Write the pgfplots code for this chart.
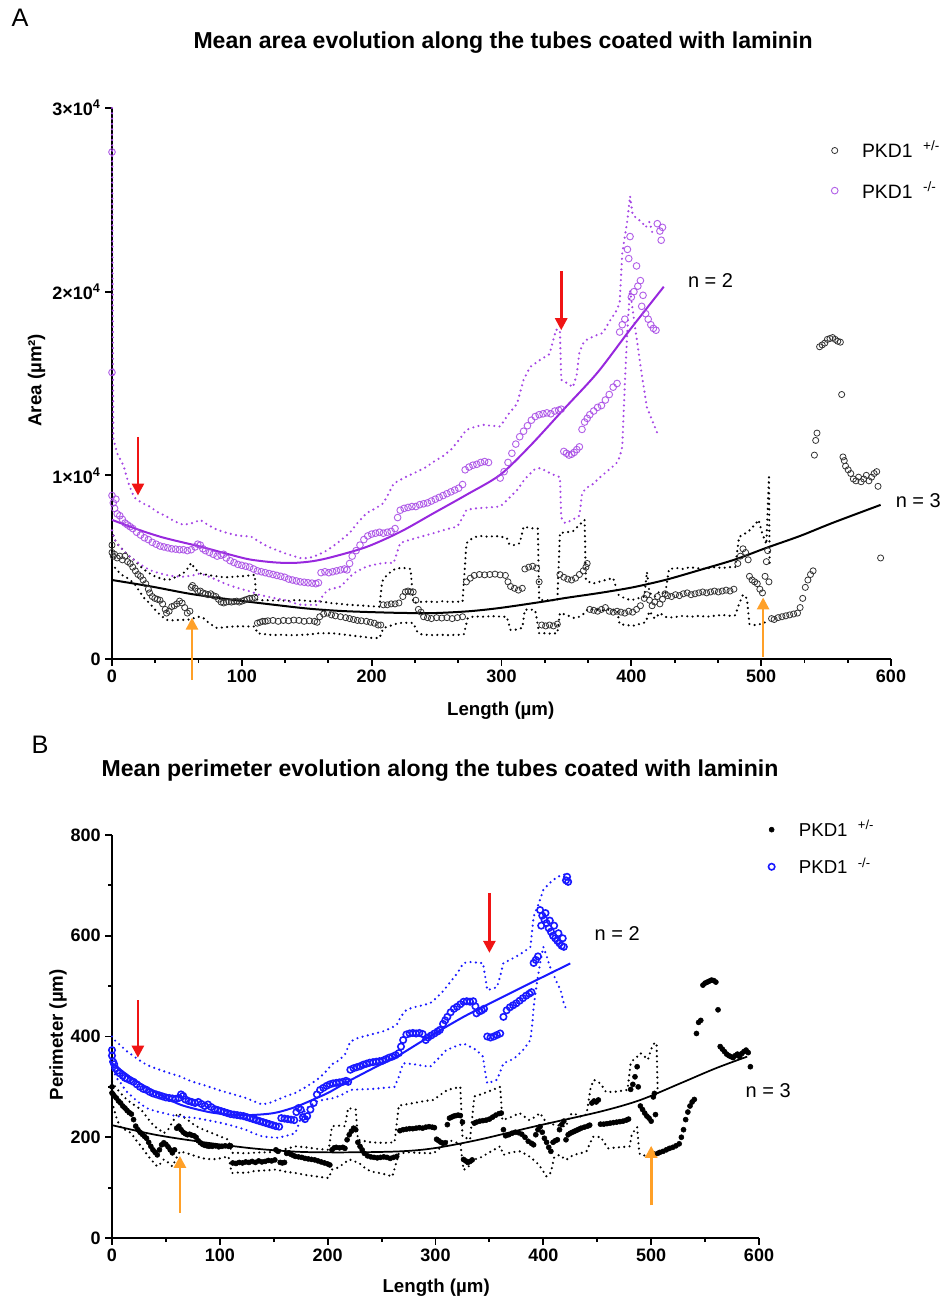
\documentclass[border=0pt]{standalone}
\usepackage{fontspec}
\setmainfont{Liberation Sans}
\usepackage{pgfplots}
\pgfplotsset{compat=1.18}
\usetikzlibrary{arrows.meta}
\definecolor{pur}{RGB}{152,40,222}
\definecolor{purl}{RGB}{165,70,228}
\definecolor{blu}{RGB}{25,25,255}
\definecolor{arrred}{RGB}{240,20,20}
\definecolor{arrorg}{RGB}{255,160,40}
\tikzset{
  redarr/.style={arrred, line width=2pt, -{Triangle[width=9pt,length=9pt]}},
  orgarr/.style={arrorg, line width=2pt, -{Triangle[width=9pt,length=9pt]}},
}
\pgfplotsset{
  prism/.style={
    scale only axis, axis lines=left, axis line style={-, line width=1.4pt},
    tick align=outside, major tick length=5pt, minor tick length=3pt,
    every tick/.style={line width=1.4pt, black},
    tick label style={font=\bfseries\fontsize{13.5}{14}\selectfont},
    /pgf/number format/assume math mode=true,
    label style={font=\bfseries\fontsize{14}{16}\selectfont},
    title style={font=\bfseries\fontsize{17.3}{20}\selectfont, yshift=-6pt},
    clip=false, scaled ticks=false, legend cell align=left,
  },
  band/.style={line width=1.8pt, line cap=round, dash pattern=on 0pt off 4pt, forget plot},
  fit/.style={line width=1.5pt, no marks, smooth, forget plot},
}
\newcommand{\pkdlg}[1]{\hspace{16pt}PKD1\hspace{0.55em}\textsuperscript{#1}}
\begin{document}
\begin{tikzpicture}
\path[use as bounding box] (0,0) rectangle (708.75pt,975.75pt);
% ================= Panel A =================
\begin{axis}[prism, at={(84pt,481.5pt)}, anchor=south west,
  width=584.25pt, height=413.25pt,
  xmin=0, xmax=600, ymin=0, ymax=30000,
  xtick={0,100,...,600}, minor x tick num=2,
  ytick={0,10000,20000,30000},
  yticklabels={0,1×10\textsuperscript{4},2×10\textsuperscript{4},3×10\textsuperscript{4}},
  xlabel={Length (µm)}, ylabel={Area (µm²)},
  xlabel style={at={(axis description cs:0.499,-0.094)}, anchor=center},
  ylabel style={at={(axis description cs:-0.097,0.506)}, anchor=center},
  title={Mean area evolution along the tubes coated with laminin},
  title style={at={(axis description cs:0.502,1.118)}, anchor=center},
  legend style={at={(axis description cs:0.918,0.950)}, anchor=north west, draw=none, fill=none,
    font=\fontsize{14.5}{16}\selectfont, row sep=12pt},
]
% black bands
\addplot[band, black] coordinates {(0,7000) (2,6500) (5,6200) (9,5900) (13,5600) (17,5400) (21,5100) (25,4850) (29,4660) (33,4500) (37,4400) (42,4300) (46,4350) (50,4500) (54,4600) (58,4900) (61,5230) (64,4900) (68,4660) (72,4600) (76,4550) (81,4500) (86,4450) (90,4450) (94,4480) (98,4500) (102,4520) (106,4550) (110,4580) (111,3250) (115,3200) (120,3200) (125,3180) (130,3200) (135,3150) (140,3200) (146,3200) (152,3150) (158,3150) (164,3100) (170,3030) (176,3000) (182,2950) (188,2930) (194,2900) (200,2870) (206,2850) (208,4210) (211,4500) (214,4700) (218,4900) (222,4950) (226,4950) (230,4900) (232,3050) (236,3100) (240,3120) (245,3120) (250,3100) (255,3150) (260,3100) (265,3120) (270,3120) (273,6300) (276,6500) (280,6650) (285,6700) (290,6650) (295,6700) (300,6650) (304,6600) (306,6250) (310,6200) (314,6300) (317,7200) (321,7150) (325,7100) (328,7100) (329,3210) (333,3200) (338,3200) (343,3200) (345,6860) (350,6900) (355,6950) (360,7300) (364,7570) (365,4300) (370,4100) (375,4200) (380,4300) (386,4410) (390,3500) (395,3300) (400,3200) (405,3300) (410,3400) (412,4740) (414,3600) (418,3400) (422,3700) (426,3500) (429,4900) (435,4950) (440,4900) (445,5000) (450,4950) (455,4900) (460,4950) (465,5000) (470,4950) (475,5000) (480,5000) (483,6650) (487,6800) (491,7000) (495,7300) (498,7570) (501,6800) (504,6250) (506,9900) (506.5,5200)};
\addplot[band, black] coordinates {(0,5200) (3,4900) (7,4600) (12,4400) (17,4120) (21,3700) (25,3300) (29,3030) (33,2700) (37,2400) (42,2130) (46,2100) (50,2120) (54,2130) (58,2130) (62,2200) (66,2300) (70,2250) (74,2000) (78,1800) (81,1680) (86,1720) (90,1750) (94,1770) (100,1780) (105,1770) (110,1770) (112,1400) (118,1350) (124,1300) (130,1320) (136,1300) (142,1300) (148,1320) (154,1350) (158,1400) (164,1400) (170,1400) (176,1350) (182,1300) (188,1250) (194,1200) (200,1150) (206,1140) (209,1680) (214,1800) (218,1900) (222,1960) (227,1970) (232,1960) (235,1500) (238,1350) (243,1310) (248,1300) (253,1320) (258,1300) (263,1310) (268,1320) (271,1350) (274,2230) (279,2320) (285,2300) (290,2320) (295,2330) (300,2300) (304,2300) (307,1580) (312,1600) (316,1700) (318,2680) (322,2700) (326,2650) (329,1400) (333,1400) (338,1380) (343,1400) (345,2500) (350,2400) (356,2230) (360,2300) (364,2500) (366,2670) (372,2700) (378,2650) (384,2700) (389,2650) (391,1900) (396,1850) (401,1800) (406,1900) (411,2000) (414,2600) (418,2200) (422,2500) (426,2300) (429,2250) (435,2300) (440,2350) (446,2300) (452,2350) (458,2300) (464,2350) (470,2400) (476,2350) (480,2380) (483,3000) (486,3500) (489,3300) (491,1900) (495,1850) (499,1900) (502,2000) (505,1950)};
% purple bands
\addplot[band, purl] coordinates {(0,30000) (0.5,20000) (1,12000) (4,11200) (9,10500) (13,9500) (17,8800) (23,8500) (29,8300) (35,8000) (42,7760) (48,7500) (55,7300) (62,7400) (68,7570) (74,7300) (81,7030) (87,6900) (94,6760) (100,6700) (107,6670) (113,6400) (120,6120) (126,5950) (133,5760) (140,5600) (146,5480) (152,5500) (158,5650) (164,5850) (170,6120) (176,6450) (183,6860) (189,7400) (196,7940) (203,8200) (209,8480) (213,9000) (217,9560) (226,9900) (235,10200) (242,10450) (248,10750) (255,11050) (261,11390) (267,11900) (273,12480) (280,12650) (286,12750) (292,12700) (299,12660) (305,13300) (312,13900) (317,15200) (322,15900) (330,16300) (337,16600) (342,17930) (345,17900) (346,15200) (351,15000) (355,14800) (358,15500) (360,16700) (363,17200) (366,17400) (372,17600) (378,17750) (384,18470) (388,18900) (391,19380) (393,22100) (397,23900) (399,25200) (401,24200) (404,24000) (408,23800) (411,23500) (414,23800) (417,23000)};
\addplot[band, purl] coordinates {(0,7000) (2,6500) (5,6200) (10,5800) (17,5400) (23,5100) (29,4840) (35,4700) (42,4570) (48,4500) (55,4480) (62,4550) (68,4660) (74,4500) (81,4300) (87,4100) (94,3930) (100,3800) (107,3670) (113,3500) (120,3390) (126,3300) (133,3210) (140,3050) (146,2940) (152,2950) (158,2940) (162,3400) (166,3760) (171,3850) (176,3940) (181,4300) (186,4660) (191,4850) (196,5030) (203,5150) (209,5230) (217,5230) (220,5900) (222,6320) (230,6500) (240,6700) (248,6860) (257,7050) (266,7210) (270,7700) (273,8120) (280,8200) (290,8250) (299,8300) (305,8700) (312,9200) (318,9800) (325,10300) (330,10400) (335,10200) (341,10000) (345,9900) (346,7700) (349,7400) (354,7550) (360,7800) (362,9000) (365,9300) (370,9500) (376,9900) (381,10200) (386,10500) (389,10700) (391,11000) (393,11550) (395,15000) (397,18000) (399,20100) (402,18500) (405,17000) (408,15500) (412,13700) (416,13000) (420,12300)};
% means
\addplot[only marks, mark=o, mark size=2.3pt, mark options={draw=black!80, line width=0.6pt}] coordinates {(0,5800) (0,6200) (1,5600) (2,5700) (4,5500) (6,5600) (8,5400) (10,5600) (12,5300) (14,5200) (16,5000) (18,4800) (20,4600) (22,4500) (24,4300) (26,4100) (28,3800) (29,3600) (31,3400) (33,3300) (35,3250) (37,3200) (39,3000) (41,2700) (42,2500) (44,2600) (46,2850) (48,2900) (50,3000) (52,3150) (54,3050) (56,2800) (58,2500) (60,2600) (61,3900) (62,4000) (64,3850) (66,3700) (68,3700) (70,3600) (72,3550) (74,3500) (76,3550) (78,3450) (80,3400) (82,3250) (84,3100) (86,3050) (88,3100) (90,3120) (92,3100) (94,3130) (96,3150) (98,3100) (100,3150) (102,3200) (104,3250) (106,3300) (108,3300) (110,3350) (112,1950) (114,2000) (116,2050) (118,2050) (120,2080) (124,2100) (128,2050) (132,2100) (136,2080) (140,2120) (144,2100) (148,2050) (152,2080) (156,2050) (158,2000) (160,2300) (163,2450) (166,2500) (169,2400) (172,2350) (176,2300) (180,2250) (183,2200) (186,2150) (189,2100) (192,2080) (196,2050) (199,2000) (202,1950) (205,1850) (207,1850) (209,2950) (212,2950) (215,3000) (218,3000) (221,3050) (224,3400) (226,3650) (228,3700) (230,3650) (232,3650) (234,3200) (236,2700) (238,2550) (240,2300) (243,2250) (246,2200) (250,2250) (254,2230) (258,2250) (262,2200) (266,2250) (270,2300) (273,4200) (276,4400) (279,4550) (283,4600) (287,4580) (291,4600) (295,4620) (299,4580) (303,4550) (305,4200) (307,3950) (310,3850) (313,3750) (316,3850) (318,4900) (321,5000) (324,5050) (327,4950) (329,4200) (331,1850) (334,1800) (337,1850) (340,1800) (343,1900) (345,4600) (348,4450) (351,4350) (354,4300) (357,4400) (360,4600) (363,4800) (365,5000) (366,5200) (368,2700) (371,2650) (374,2600) (377,2700) (380,2800) (383,2600) (386,2550) (389,2600) (392,2550) (395,2500) (398,2600) (401,2550) (404,2700) (407,2900) (410,3300) (412,3500) (414,3200) (416,2900) (418,3100) (420,3400) (422,3000) (424,3250) (426,3550) (428,3450) (431,3400) (434,3500) (437,3450) (440,3550) (443,3600) (446,3500) (449,3550) (452,3600) (455,3650) (458,3600) (461,3650) (464,3700) (467,3650) (470,3700) (473,3750) (476,3700) (479,3800) (482,5200) (484,5600) (486,6000) (488,5800) (490,5400) (491,4500) (493,4300) (495,4200) (497,4100) (499,3800) (501,3600) (503,4500) (504,5300) (505,5900) (506,4200) (508,2200) (510,2150) (513,2250) (516,2300) (519,2350) (522,2400) (525,2450) (528,2500) (530,2800) (532,3300) (534,3900) (536,4300) (538,4600) (540,4800) (541,11100) (542,11900) (543,12300) (545,17000) (547,17100) (549,17200) (551,17400) (553,17450) (555,17500) (557,17400) (559,17300) (561,17250) (562,14400) (563,11000) (564,10800) (565,10500) (567,10300) (569,10100) (571,9800) (573,9700) (575,9900) (577,9650) (579,9800) (581,10000) (583,9700) (585,9900) (587,10100) (589,10200) (590,9400) (592,5500)};
\addlegendentry{\pkdlg{+/-}}
\addplot[only marks, mark=o, mark size=2.5pt, mark options={draw=purl, line width=0.7pt, draw opacity=0.85}] coordinates {(0,27600) (0,15600) (0,8900) (1,8500) (2,8200) (3,8700) (4,7900) (6,7800) (8,7600) (10,7400) (12,7300) (14,7200) (16,7100) (19,6900) (22,6750) (25,6600) (28,6500) (31,6350) (34,6250) (37,6150) (40,6100) (43,6050) (46,6000) (49,5980) (52,5950) (55,5950) (58,5900) (61,5950) (64,6100) (66,6250) (68,6200) (70,6000) (72,5900) (75,5800) (78,5700) (81,5600) (84,5650) (86,5700) (88,5500) (91,5350) (94,5250) (97,5150) (100,5100) (103,5050) (106,5000) (109,4900) (112,4800) (115,4750) (118,4700) (121,4650) (124,4600) (127,4550) (130,4500) (133,4450) (136,4350) (139,4300) (142,4250) (145,4200) (148,4180) (151,4150) (154,4130) (157,4100) (159,4150) (161,4700) (164,4750) (167,4700) (170,4750) (173,4800) (176,4850) (179,4900) (181,4850) (183,5200) (185,5600) (188,5900) (191,6200) (194,6500) (197,6700) (200,6800) (203,6850) (206,6900) (209,6850) (212,6900) (215,6950) (218,7100) (220,7700) (222,8100) (225,8200) (228,8250) (231,8300) (234,8300) (237,8400) (240,8450) (243,8500) (246,8600) (249,8700) (252,8800) (255,8900) (258,9000) (261,9100) (264,9200) (267,9300) (270,9500) (272,10300) (275,10450) (278,10550) (281,10600) (284,10700) (287,10750) (290,10700) (299,9850) (302,10200) (305,10700) (308,11200) (311,11700) (314,12100) (317,12400) (320,12700) (323,13000) (326,13200) (329,13300) (332,13350) (335,13400) (338,13350) (341,13500) (344,13550) (346,13600) (348,11300) (350,11200) (352,11100) (354,11150) (356,11250) (358,11400) (360,11550) (362,12500) (364,12900) (366,13100) (368,13300) (371,13500) (374,13700) (377,13800) (380,14100) (383,14400) (386,14800) (389,15000) (391,17800) (393,18200) (395,18500) (397,22300) (398,21800) (399,23000) (400,19700) (402,20000) (404,21400) (405,20300) (407,20600) (408,19200) (409,19800) (411,18800) (413,18500) (415,18200) (417,18000) (419,17900) (420,23700) (422,23300) (423,22800) (424,23500)};
\addlegendentry{\pkdlg{-/-}}
% fits
\addplot[fit, black] coordinates {(0,4300) (30,3950) (60,3550) (90,3250) (119,3000) (150,2750) (175,2620) (196,2560) (222,2510) (248,2500) (275,2600) (299,2780) (330,3100) (350,3330) (376,3600) (401,3900) (427,4320) (453,4850) (480,5420) (504,6050) (530,6700) (555,7410) (592,8390)};
\addplot[fit, pur] coordinates {(0,7575) (20,7050) (40,6600) (68,6120) (90,5700) (106,5420) (125,5260) (140,5230) (155,5330) (170,5560) (196,6100) (222,6920) (248,7950) (273,8940) (299,10030) (322,11600) (348,13600) (374,15600) (399,17930) (425,20270)};
% annotations
\draw[redarr] (axis cs:20,12100) -- (axis cs:20,8900);
\draw[redarr] (axis cs:346,21100) -- (axis cs:346,17900);
\draw[orgarr] (axis cs:61.6,-1150) -- (axis cs:61.6,2250);
\draw[orgarr] (axis cs:501.5,110) -- (axis cs:501.5,3350);
\node[font=\fontsize{15}{18}\selectfont] at (axis cs:461,20600) {n = 2};
\node[font=\fontsize{15}{18}\selectfont] at (axis cs:621,8610) {n = 3};
\node[font=\fontsize{19}{22}\selectfont] at (axis description cs:-0.118,1.163) {A};
\end{axis}
% ================= Panel B =================
\begin{axis}[prism, at={(84pt,47.25pt)}, anchor=south west,
  width=485.25pt, height=302.25pt,
  xmin=0, xmax=600, ymin=0, ymax=800,
  xtick={0,100,...,600}, minor x tick num=1,
  ytick={0,200,...,800}, minor y tick num=1,
  xlabel={Length (µm)}, ylabel={Perimeter (µm)},
  xlabel style={at={(axis description cs:0.501,-0.124)}, anchor=center},
  ylabel style={at={(axis description cs:-0.0835,0.504)}, anchor=center},
  title={Mean perimeter evolution along the tubes coated with laminin},
  title style={at={(axis description cs:0.507,1.159)}, anchor=center},
  legend style={at={(axis description cs:1.008,1.050)}, anchor=north west, draw=none, fill=none,
    font=\fontsize{14}{16}\selectfont, row sep=10pt},
]
\addplot[band, black] coordinates {(0,310) (3,300) (7,290) (10,283) (14,274) (20,265) (27,255) (33,238) (39,222) (44,215) (48,208) (52,215) (56,230) (61,248) (65,242) (70,235) (74,228) (78,222) (85,215) (93,208) (100,202) (108,195) (111,169) (118,169) (124,168) (130,169) (138,170) (145,170) (152,172) (160,176) (170,182) (180,180) (190,177) (201,175) (204,222) (210,223) (216,222) (219,258) (226,255) (228,195) (233,193) (240,190) (248,189) (255,189) (262,190) (266,263) (272,265) (280,268) (290,272) (298,274) (305,285) (311,294) (317,297) (323,300) (325,201) (329,198) (332,195) (336,281) (342,285) (348,290) (354,295) (360,300) (362,234) (370,240) (378,248) (383,240) (387,234) (392,240) (397,248) (400,238) (403,228) (410,225) (416,223) (421,221) (425,245) (428,248) (434,241) (440,245) (444,300) (447,314) (450,310) (453,307) (458,290) (465,290) (472,292) (478,294) (481,347) (484,355) (487,360) (490,367) (494,360) (497,354) (500,375) (503,387) (505,387) (506,294)};
\addplot[band, black] coordinates {(0,270) (2,255) (4,240) (7,222) (12,215) (18,208) (22,195) (27,182) (31,170) (36,156) (42,142) (45,148) (48,156) (52,150) (56,142) (60,160) (63,172) (70,168) (78,162) (85,158) (93,156) (100,158) (108,162) (111,129) (118,130) (124,129) (132,133) (140,134) (148,135) (152,136) (160,132) (170,129) (180,125) (190,122) (201,119) (204,136) (210,140) (215,148) (220,156) (225,152) (229,149) (234,140) (240,132) (248,129) (254,126) (260,122) (266,168) (275,170) (285,169) (298,168) (305,180) (312,195) (318,190) (323,188) (326,135) (330,140) (335,155) (342,160) (350,170) (360,182) (363,165) (370,170) (378,172) (385,165) (391,155) (396,145) (400,132) (403,122) (407,130) (410,160) (415,165) (421,155) (428,165) (434,168) (440,172) (446,201) (450,200) (453,201) (460,178) (470,180) (480,182) (482,205) (485,215) (487,220) (489,168) (492,163) (496,165) (500,170) (504,170)};
\addplot[band, blu] coordinates {(0,400) (1,395) (4,390) (7,384) (13,372) (20,361) (26,352) (32,344) (40,337) (48,331) (55,326) (63,321) (70,314) (78,308) (86,303) (93,298) (100,293) (108,288) (116,283) (124,278) (131,272) (139,265) (146,268) (154,275) (162,282) (170,288) (180,300) (190,314) (197,327) (204,345) (210,352) (216,364) (221,390) (224,393) (228,397) (233,400) (242,405) (251,410) (258,416) (264,423) (268,440) (273,453) (280,458) (288,462) (295,466) (300,475) (307,490) (313,506) (320,525) (326,546) (333,548) (341,546) (344,546) (346,520) (348,492) (353,495) (357,498) (360,520) (363,546) (369,552) (375,559) (382,568) (388,578) (391,638) (396,665) (400,691) (406,705) (413,717) (419,721) (422,725)};
\addplot[band, blu] coordinates {(0,345) (2,330) (4,318) (7,311) (13,292) (20,278) (26,267) (32,258) (40,252) (48,248) (55,244) (63,241) (70,240) (78,238) (86,235) (93,232) (100,229) (108,225) (116,220) (124,215) (131,208) (139,202) (146,200) (154,199) (162,203) (170,208) (173,225) (176,245) (182,260) (190,271) (197,275) (204,277) (212,283) (221,294) (230,295) (242,296) (252,298) (262,300) (266,320) (270,347) (280,345) (288,342) (295,340) (302,355) (310,373) (318,380) (326,386) (332,380) (338,373) (344,360) (346,330) (348,307) (352,310) (357,314) (360,330) (363,347) (369,352) (375,360) (382,375) (388,393) (390,430) (391,459) (394,506) (397,545) (400,578) (403,560) (406,539) (410,520) (413,505) (416,492) (419,466) (421,455)};
\addplot[only marks, mark=*, mark size=1.9pt, mark options={fill=black, draw=black}] coordinates {(0,300) (0,288) (1,285) (2,282) (4,278) (6,272) (8,268) (10,262) (12,258) (14,253) (16,249) (18,246) (20,235) (22,222) (24,215) (26,210) (28,206) (30,202) (32,198) (34,190) (36,182) (38,175) (40,170) (42,165) (44,175) (46,185) (48,189) (50,186) (52,181) (54,175) (56,169) (58,175) (60,218) (62,222) (64,215) (66,210) (68,207) (70,205) (72,206) (74,204) (76,203) (78,200) (80,193) (82,189) (84,186) (86,184) (88,183) (90,182) (93,182) (96,183) (99,181) (102,182) (105,183) (108,182) (110,183) (112,149) (115,148) (118,150) (121,149) (124,151) (127,150) (130,152) (133,150) (136,153) (139,151) (142,152) (145,154) (148,153) (151,155) (152,175) (154,172) (156,150) (158,149) (160,150) (162,168) (164,169) (166,166) (168,164) (170,162) (173,161) (176,160) (179,158) (182,157) (185,156) (188,155) (191,153) (194,151) (197,149) (200,147) (202,145) (204,175) (206,179) (208,180) (211,179) (214,180) (216,178) (218,195) (220,205) (222,212) (224,218) (226,215) (228,190) (230,182) (232,175) (234,168) (237,163) (240,161) (243,160) (246,159) (249,160) (252,161) (255,160) (258,158) (261,160) (264,162) (267,213) (270,215) (273,216) (276,217) (279,217) (282,218) (285,219) (288,218) (291,220) (294,221) (297,220) (299,219) (301,196) (303,193) (305,190) (307,188) (309,189) (311,225) (313,238) (315,240) (317,242) (319,243) (321,244) (323,243) (325,230) (326,156) (328,153) (330,150) (332,152) (334,155) (336,228) (338,230) (341,232) (344,233) (347,234) (350,236) (353,240) (356,244) (359,247) (361,248) (363,215) (365,203) (368,205) (371,208) (374,210) (377,209) (380,206) (383,200) (386,192) (389,188) (391,185) (393,205) (395,215) (397,221) (399,210) (401,198) (403,190) (405,180) (407,172) (409,190) (411,193) (413,195) (415,215) (417,225) (419,232) (421,195) (423,205) (425,208) (427,210) (429,212) (431,214) (433,216) (435,218) (438,220) (441,222) (443,224) (445,268) (447,272) (449,270) (451,274) (453,226) (456,226) (459,227) (462,228) (465,229) (468,230) (471,231) (474,232) (477,234) (479,236) (481,295) (483,305) (485,320) (487,340) (488,300) (490,262) (492,255) (494,248) (496,242) (498,238) (500,232) (502,280) (503,287) (504,245) (506,168) (508,170) (511,172) (514,175) (517,178) (520,180) (523,183) (526,187) (528,200) (530,215) (532,235) (534,250) (536,262) (538,270) (540,275) (542,406) (544,428) (546,432) (548,502) (550,506) (552,508) (554,510) (556,512) (558,511) (560,508) (562,453) (564,380) (566,375) (568,370) (570,365) (572,362) (574,360) (576,358) (578,362) (580,365) (582,360) (584,366) (586,370) (588,373) (590,368) (592,340)};
\addlegendentry{\pkdlg{+/-}}
\addplot[only marks, mark=o, mark size=2.4pt, mark options={draw=blu, line width=1.2pt}] coordinates {(0,373) (0,362) (1,350) (2,345) (3,337) (5,332) (7,327) (10,322) (12,318) (14,316) (17,313) (20,310) (23,305) (26,300) (29,296) (32,294) (35,290) (38,287) (41,285) (44,283) (47,281) (50,279) (53,278) (56,277) (59,276) (62,278) (64,285) (66,282) (68,275) (71,272) (74,270) (77,268) (80,270) (83,266) (86,262) (89,265) (92,260) (95,256) (98,254) (101,252) (104,250) (107,248) (110,246) (113,245) (116,244) (119,243) (122,242) (125,240) (128,238) (131,236) (134,234) (137,232) (140,230) (143,228) (146,226) (149,224) (152,222) (155,221) (157,238) (160,237) (163,236) (166,235) (169,234) (171,250) (173,258) (175,255) (177,240) (179,236) (181,242) (184,255) (187,268) (190,285) (193,294) (196,298) (199,302) (202,305) (205,307) (208,308) (211,309) (214,310) (217,312) (219,310) (221,334) (224,337) (227,339) (230,341) (233,344) (236,346) (239,348) (242,349) (245,350) (248,351) (251,352) (254,355) (257,358) (260,360) (263,363) (266,367) (268,380) (270,393) (273,404) (276,406) (279,407) (282,406) (285,407) (288,405) (291,393) (293,398) (296,402) (299,406) (302,410) (304,413) (307,425) (309,432) (311,439) (314,448) (317,455) (320,459) (323,464) (326,469) (329,470) (332,469) (335,470) (337,460) (338,446) (341,450) (343,452) (345,455) (348,400) (351,398) (354,400) (357,403) (360,406) (363,439) (366,452) (369,458) (372,462) (375,466) (378,471) (381,476) (384,481) (387,485) (389,488) (391,546) (393,552) (395,559) (397,651) (399,640) (401,632) (403,625) (405,615) (407,608) (409,600) (411,595) (413,590) (415,585) (417,580) (419,578) (398,620) (402,645) (406,630) (410,620) (414,605) (418,595) (421,710) (422,717) (423,707)};
\addlegendentry{\pkdlg{-/-}}
\addplot[fit, black, line width=1.3pt] coordinates {(0,224) (40,205) (82,191) (130,178) (174,171) (220,170) (267,172) (298,178) (340,195) (391,221) (453,251) (490,274) (527,307) (560,337) (589,360)};
\addplot[fit, blu] coordinates {(0,347) (20,315) (40,290) (63,265) (90,250) (110,245) (128,244) (150,248) (170,260) (190,278) (202,290) (220,312) (245,340) (264,360) (290,394) (326,439) (360,476) (388,506) (425,545)};
\draw[redarr] (axis cs:24,472) -- (axis cs:24,358);
\draw[redarr] (axis cs:350,685) -- (axis cs:350,566);
\draw[orgarr] (axis cs:63,50) -- (axis cs:63,163);
\draw[orgarr] (axis cs:500,65) -- (axis cs:500,183);
\node[font=\fontsize{15}{18}\selectfont] at (axis cs:468.5,605) {n = 2};
\node[font=\fontsize{15}{18}\selectfont] at (axis cs:608.5,292) {n = 3};
\node[font=\fontsize{19}{22}\selectfont] at (axis description cs:-0.111,1.223) {B};
\end{axis}
\end{tikzpicture}
\end{document}
